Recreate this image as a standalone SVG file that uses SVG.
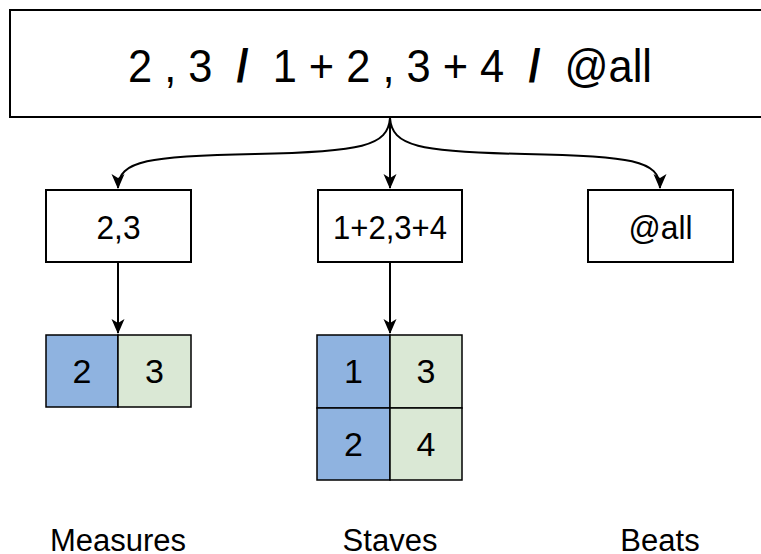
<svg xmlns="http://www.w3.org/2000/svg" width="761" height="554" viewBox="0 0 761 554">
  <style>
    .box { fill: #ffffff; stroke: #000000; stroke-width: 2; }
    .cell { stroke: #000000; stroke-width: 1.5; }
    .blue { fill: #8fb3e0; }
    .green { fill: #dae8d5; }
    text { font-family: "Liberation Sans", Arial, sans-serif; fill: #000000; text-anchor: middle; }
    .big { font-size: 46px; }
    .mid { font-size: 34px; }
    .lbl { font-size: 31px; }
    .slash { font-weight: bold; }
    .edge { fill: none; stroke: #000000; stroke-width: 2; }
  </style>
  <defs>
    <marker id="arrow" markerUnits="userSpaceOnUse" markerWidth="16" markerHeight="16" viewBox="0 0 16 16" refX="14" refY="8" orient="auto">
      <path d="M0,1.5 L15,8 L0,14.5 L4,8 z" fill="#000000"/>
    </marker>
  </defs>
  <rect width="761" height="554" fill="#ffffff"/>

  <g id="expr">
    <rect class="box" x="10" y="10" width="760" height="107"/>
    <text class="big" x="390" y="82" textLength="524" lengthAdjust="spacingAndGlyphs" xml:space="preserve">2 , 3  <tspan class="slash">/</tspan>  1 + 2 , 3 + 4  <tspan class="slash">/</tspan>  @all</text>
  </g>

  <g id="measures-sel">
    <rect class="box" x="46" y="190" width="145" height="72"/>
    <text class="mid" x="118.5" y="239" textLength="44" lengthAdjust="spacingAndGlyphs">2,3</text>
  </g>
  <g id="staves-sel">
    <rect class="box" x="318" y="190" width="144" height="72"/>
    <text class="mid" x="390" y="239" textLength="114" lengthAdjust="spacingAndGlyphs">1+2,3+4</text>
  </g>
  <g id="beats-sel">
    <rect class="box" x="588" y="190" width="145" height="72"/>
    <text class="mid" x="660.5" y="239" textLength="64" lengthAdjust="spacingAndGlyphs">@all</text>
  </g>

  <g id="measures-grid">
    <rect class="cell blue" x="46" y="335" width="72" height="72"/>
    <rect class="cell green" x="118" y="335" width="73" height="72"/>
    <text class="mid" x="82" y="383">2</text>
    <text class="mid" x="154.5" y="383">3</text>
  </g>
  <g id="staves-grid">
    <rect class="cell blue" x="317" y="335" width="73" height="73"/>
    <rect class="cell green" x="390" y="335" width="72" height="73"/>
    <rect class="cell blue" x="317" y="408" width="73" height="72"/>
    <rect class="cell green" x="390" y="408" width="72" height="72"/>
    <text class="mid" x="353.5" y="383">1</text>
    <text class="mid" x="426" y="383">3</text>
    <text class="mid" x="353.5" y="456">2</text>
    <text class="mid" x="426" y="456">4</text>
  </g>

  <g id="labels">
    <text class="lbl" x="118" y="551">Measures</text>
    <text class="lbl" x="390" y="551">Staves</text>
    <text class="lbl" x="660" y="551">Beats</text>
  </g>

  <g id="connectors">
    <path class="edge" d="M390,118 C388,146 362,152 255,154 C150,156 118,160 118,188" marker-end="url(#arrow)"/>
    <path class="edge" d="M390,118 L390,188" marker-end="url(#arrow)"/>
    <path class="edge" d="M390,118 C392,146 418,152 525,154 C630,156 660,160 660,188" marker-end="url(#arrow)"/>
    <path class="edge" d="M118,262 L118,333" marker-end="url(#arrow)"/>
    <path class="edge" d="M390,262 L390,333" marker-end="url(#arrow)"/>
  </g>
</svg>
